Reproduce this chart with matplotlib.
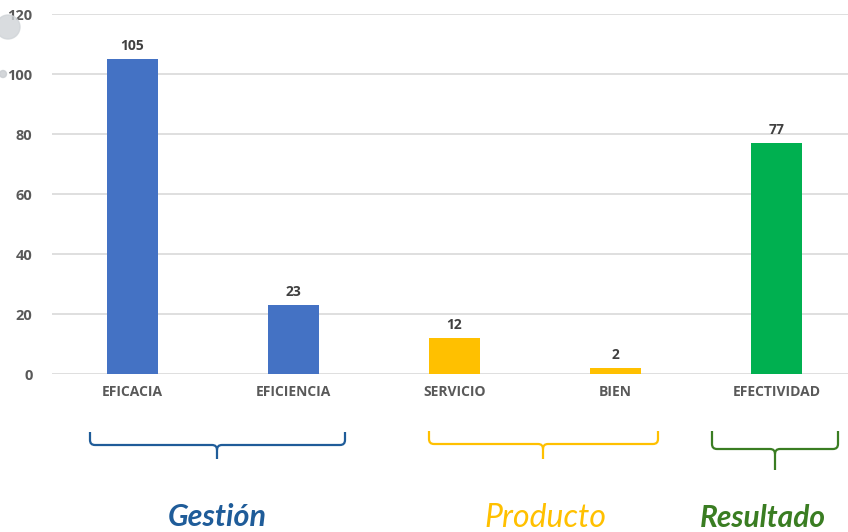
import matplotlib.pyplot as plt
from matplotlib.path import Path
from matplotlib.patches import PathPatch, Circle

# data
categories = ["EFICACIA", "EFICIENCIA", "SERVICIO", "BIEN", "EFECTIVIDAD"]
values = [105, 23, 12, 2, 77]
bar_colors = ["#4472C4", "#4472C4", "#FFC000", "#FFC000", "#00B050"]
y_ticks = [0, 20, 40, 60, 80, 100, 120]

groups = ["Gestión", "Producto", "Resultado"]
group_colors = ["#1F5C99", "#FFC000", "#3A7D22"]

plt.rcParams['font.family'] = ['Open Sans', 'DejaVu Sans']

fig = plt.figure(figsize=(8.48, 5.32), dpi=100)
# plot area runs past the right edge of the picture, like the cropped original
ax = fig.add_axes([52 / 848, (532 - 374) / 532, 805 / 848, 360 / 532])

x = range(len(categories))
bars = ax.bar(x, values, width=0.32, color=bar_colors, zorder=3)
for b, v in zip(bars, values):
    ax.annotate(str(v), (b.get_x() + b.get_width() / 2, v), xytext=(0, 4),
                textcoords="offset points", ha="center", va="bottom",
                fontsize=10, fontweight="bold", color="#404040")

ax.set_xlim(-0.5, len(categories) - 0.5)
ax.set_ylim(0, 120)
ax.set_yticks(y_ticks)
ax.set_xticks(list(x))
ax.set_xticklabels(categories)
ax.tick_params(axis="both", length=0, colors="#595959")
ax.tick_params(axis="x", pad=8, labelsize=10)
ax.tick_params(axis="y", pad=14, labelsize=10.5)
for lbl in ax.get_xticklabels() + ax.get_yticklabels():
    lbl.set_fontweight("bold")
ax.grid(axis="y", color="#D9D9D9", linewidth=1.2, zorder=0)
for s in ax.spines.values():
    s.set_visible(False)

# overlay in pixel coords for braces and decorations
ov = fig.add_axes([0, 0, 1, 1], zorder=5)
ov.set_xlim(0, 848)
ov.set_ylim(532, 0)
ov.axis("off")
ov.patch.set_alpha(0)


def brace(x0, x1, xc, ytop, ymid, ybot, color, r=5):
    verts = [(x0, ytop), (x0, ymid - r), (x0, ymid), (x0 + r, ymid),
             (xc - r, ymid), (xc, ymid), (xc, ymid + r), (xc, ybot),
             (xc, ymid + r), (xc, ymid), (xc + r, ymid),
             (x1 - r, ymid), (x1, ymid), (x1, ymid - r), (x1, ytop)]
    codes = [Path.MOVETO, Path.LINETO, Path.CURVE3, Path.CURVE3,
             Path.LINETO, Path.CURVE3, Path.CURVE3, Path.LINETO,
             Path.MOVETO, Path.CURVE3, Path.CURVE3,
             Path.LINETO, Path.CURVE3, Path.CURVE3, Path.LINETO]
    ov.add_patch(PathPatch(Path(verts, codes), fill=False, edgecolor=color,
                           linewidth=1.6, capstyle="butt"))


brace(90, 345, 217, 432, 445, 459, group_colors[0])
brace(429, 658, 543, 431, 444, 459, group_colors[1])
brace(712, 838, 775, 431, 449, 470, group_colors[2])

ov.text(217, 526, groups[0], color=group_colors[0], fontsize=22,
        family="Lato", style="italic", fontweight="bold", ha="center", va="baseline")
ov.text(545, 527, groups[1], color=group_colors[1], fontsize=23,
        family="Lato", style="italic", ha="center", va="baseline")
ov.text(763, 527, groups[2], color=group_colors[2], fontsize=21.5,
        family="Lato", style="italic", fontweight="bold", ha="center", va="baseline")

# faint decorative circles at top left
ov.add_patch(Circle((8, 27), 12, color="#D0D4D8", alpha=0.8))
ov.add_patch(Circle((3, 74), 3.5, color="#C8CCD0", alpha=0.8))

fig.savefig("out.png", dpi=100)
